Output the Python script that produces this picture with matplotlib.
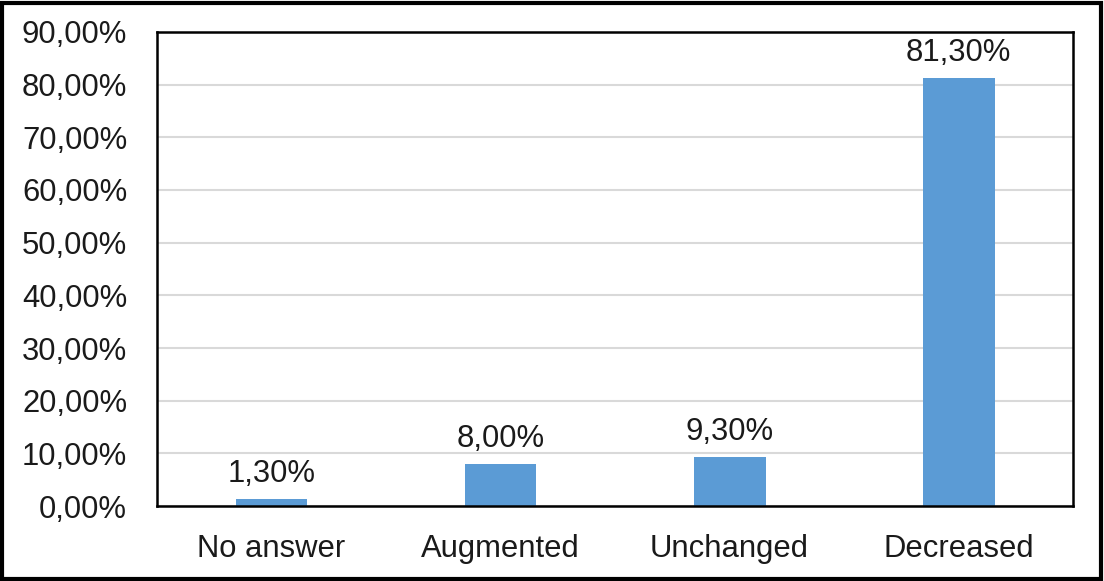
import matplotlib.pyplot as plt
from matplotlib.patches import Rectangle

# data
categories = ['No answer', 'Augmented', 'Unchanged', 'Decreased']
values = [1.3, 8.0, 9.3, 81.3]
yticks = [0, 10, 20, 30, 40, 50, 60, 70, 80, 90]

plt.rcParams['font.family'] = ['Liberation Sans', 'DejaVu Sans']

fig = plt.figure(figsize=(11.04, 5.81), dpi=100)
ax = fig.add_axes([0.1422, 0.129, 0.8298, 0.816])

x = range(len(categories))
ax.bar(x, values, width=0.314, color='#5B9BD5', zorder=3)

for xi, v in zip(x, values):
    label = f'{v:.2f}'.replace('.', ',') + '%'
    ax.annotate(label, (xi, v), xytext=(0, 7), textcoords='offset points',
                ha='center', va='bottom', fontsize=22.3, color='#1a1a1a')

ax.set_xlim(-0.5, len(categories) - 0.5)
ax.set_ylim(0, 90)
ax.set_yticks(yticks)
ax.set_yticklabels([f'{t:.2f}'.replace('.', ',') + '%' for t in yticks])
ax.set_xticks(list(x))
ax.set_xticklabels(categories)
ax.tick_params(axis='y', length=0, pad=21.5, labelsize=22.3, labelcolor='#1a1a1a')
ax.tick_params(axis='x', length=0, pad=20, labelsize=22.3, labelcolor='#1a1a1a')

ax.grid(axis='y', color='#d9d9d9', linewidth=1.5, zorder=0)
for s in ax.spines.values():
    s.set_color('black')
    s.set_linewidth(1.8)
    s.set_zorder(4)

# outer frame around the whole figure
fig.patches.append(Rectangle((0.002, 0.003), 0.995, 0.992, transform=fig.transFigure,
                             fill=False, edgecolor='black', linewidth=3))

fig.savefig('out.png', dpi=100)
